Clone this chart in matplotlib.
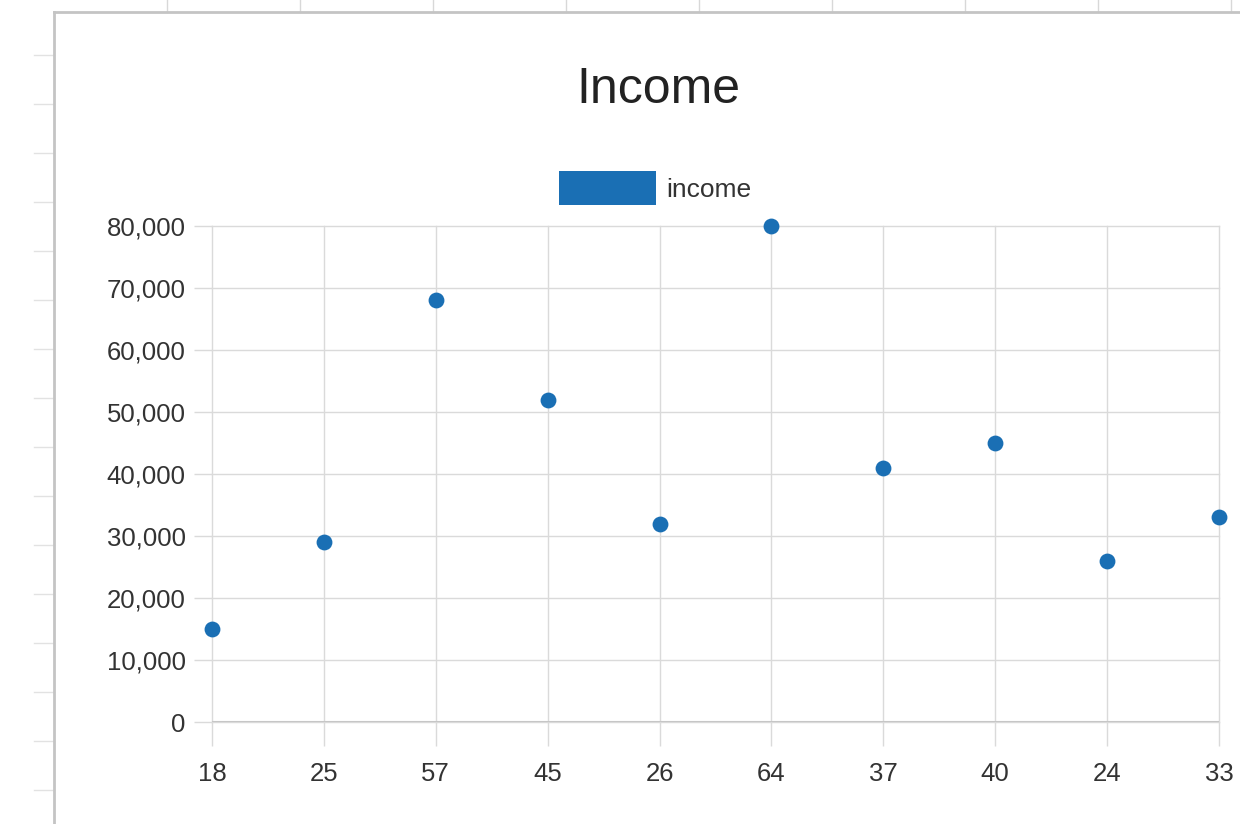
import matplotlib
matplotlib.use("Agg")
import matplotlib.pyplot as plt
from matplotlib.patches import Patch

plt.rcParams['font.family'] = ['Liberation Sans', 'DejaVu Sans']

# data
ages = ['18', '25', '57', '45', '26', '64', '37', '40', '24', '33']
income = [15000, 29000, 68000, 52000, 32000, 80000, 41000, 45000, 26000, 33000]
y_ticks = [0, 10000, 20000, 30000, 40000, 50000, 60000, 70000, 80000]

BLUE = '#1a6fb4'
GRID = '#dadada'
TEXT = '#333333'
W, H = 1240, 824

fig = plt.figure(figsize=(W / 100, H / 100), dpi=100)
fig.patch.set_facecolor('white')

# spreadsheet backdrop behind the chart
bg = fig.add_axes([0, 0, 1, 1], zorder=0)
bg.set_xlim(0, W)
bg.set_ylim(H, 0)
bg.axis('off')
for x in range(167, W, 133):
    bg.plot([x, x], [0, 12], color='#d8d8d8', lw=1)
for y in range(55, H, 49):
    bg.plot([34, 54], [y, y], color='#e2e2e2', lw=1)
bg.plot([54, 54], [12, H], color='#c4c4c4', lw=2)
bg.plot([54, W], [12, 12], color='#c4c4c4', lw=2)

# plot area
left, right, top, bottom = 212, 1219, 226, 722
ax = fig.add_axes([left / W, 1 - bottom / H, (right - left) / W, (bottom - top) / H], zorder=1)
ax.set_facecolor('none')
x = list(range(len(ages)))
ax.scatter(x, income, s=130, color=BLUE, zorder=3, clip_on=False, linewidths=0)

ax.set_xlim(0, len(ages) - 1)
ax.set_ylim(0, 80000)
ax.set_xticks(x)
ax.set_xticklabels(ages)
ax.set_yticks(y_ticks)
ax.set_yticklabels([f'{v:,}' for v in y_ticks])

for s in ax.spines.values():
    s.set_visible(False)
ax.grid(True, color=GRID, lw=1)
for gl in ax.get_xgridlines() + ax.get_ygridlines():
    gl.set_clip_on(False)
ax.axhline(0, color='#c6c6c6', lw=1.5, zorder=2)
ax.set_axisbelow(True)
ax.tick_params(axis='x', length=17, width=1, color=GRID, pad=12, labelsize=18.5, labelcolor=TEXT)
ax.tick_params(axis='y', length=13, width=1, color=GRID, pad=6, labelsize=18.5, labelcolor=TEXT)

fig.text(658 / W, 1 - 90 / H, 'Income', ha='center', va='center', fontsize=36, color='#222222')

fs = 19
fig.legend(handles=[Patch(facecolor=BLUE, edgecolor='none', label='income')],
           loc='center', bbox_to_anchor=(655 / W, 1 - 188 / H), frameon=False,
           fontsize=fs, handlelength=3.7, handleheight=1.6, handletextpad=0.38,
           borderpad=0, labelcolor=TEXT)

fig.savefig('out.png', dpi=100)
